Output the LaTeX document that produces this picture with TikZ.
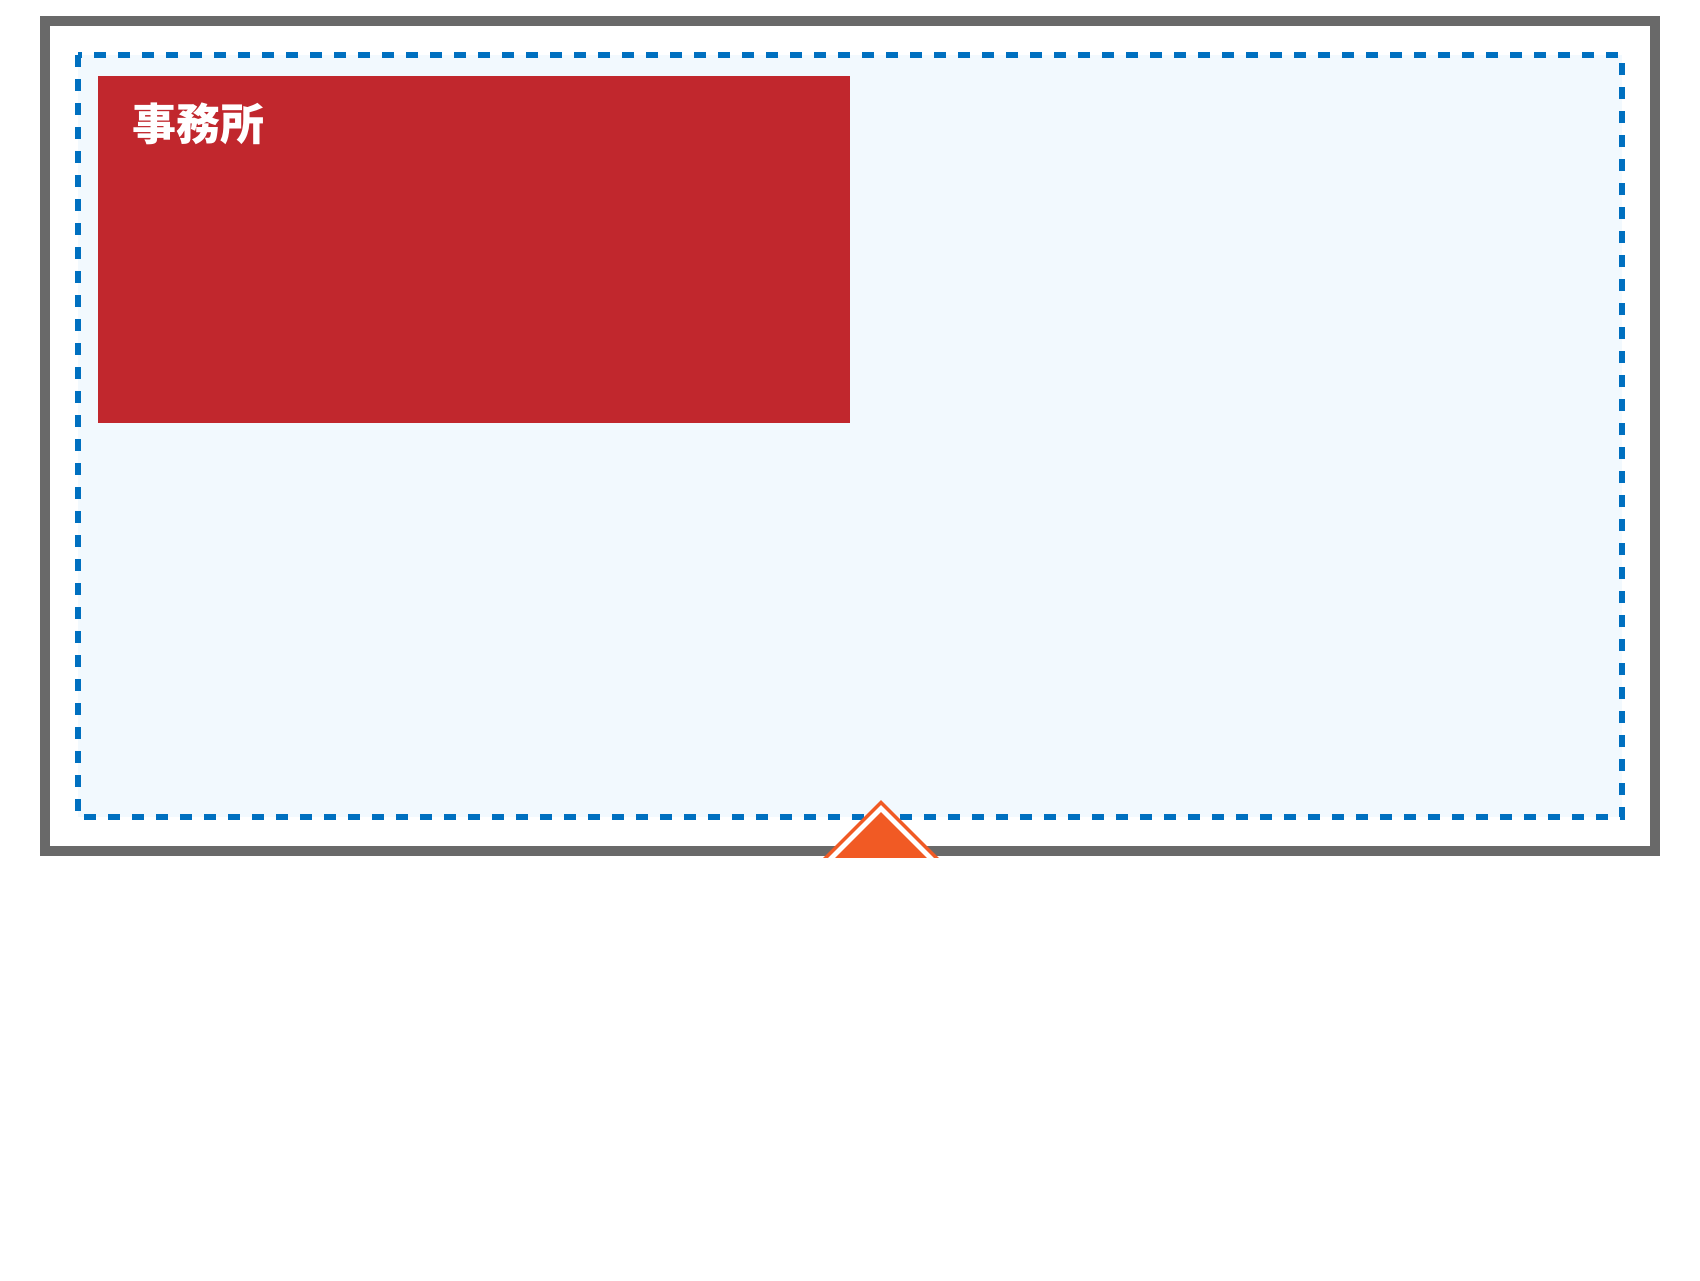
\documentclass[tikz,border=0pt]{standalone}
\usepackage{fontspec}
\newfontfamily\cjk{Noto Sans CJK JP}
\definecolor{framegray}{HTML}{696969}
\definecolor{zoneblue}{HTML}{0070C0}
\definecolor{zonefill}{HTML}{F2F9FE}
\definecolor{officered}{HTML}{C1272D}
\definecolor{entryorange}{HTML}{F15A24}
\tikzset{
  frame/.style={draw=framegray, line width=10pt},
  zone/.style={draw=zoneblue, fill=zonefill, line width=6pt, dash pattern=on 12pt off 12pt},
  room/.style={fill=officered},
  roomlabel/.style={text=white, font=\cjk\bfseries\fontsize{44}{52}\selectfont, inner sep=0pt, anchor=north west},
}
\begin{document}
\begin{tikzpicture}[x=1pt,y=-1pt]
\useasboundingbox (0,0) rectangle (1700,1280);
\fill[white] (0,0) rectangle (1700,1280);
\draw[frame] (45,21) rectangle (1655,851);
\draw[zone] (78,55) rectangle (1622,817);
\fill[room] (98,76) rectangle (850,423);
\node[roomlabel] (office) at (132,103) {事務所};
\coordinate (entry) at (881,800);
\begin{scope}
\clip (700,780) rectangle (1060,857);
\fill[entryorange] (entry) -- ++(60,60) -- ++(-120,0) -- cycle;
\fill[white] ([yshift=-5pt]entry) -- ++(56,56) -- ++(-112,0) -- cycle;
\fill[entryorange] ([yshift=-12pt]entry) -- ++(50,50) -- ++(-100,0) -- cycle;
\fill[entryorange] (873,850) rectangle (889,857);
\end{scope}
\end{tikzpicture}
\end{document}
